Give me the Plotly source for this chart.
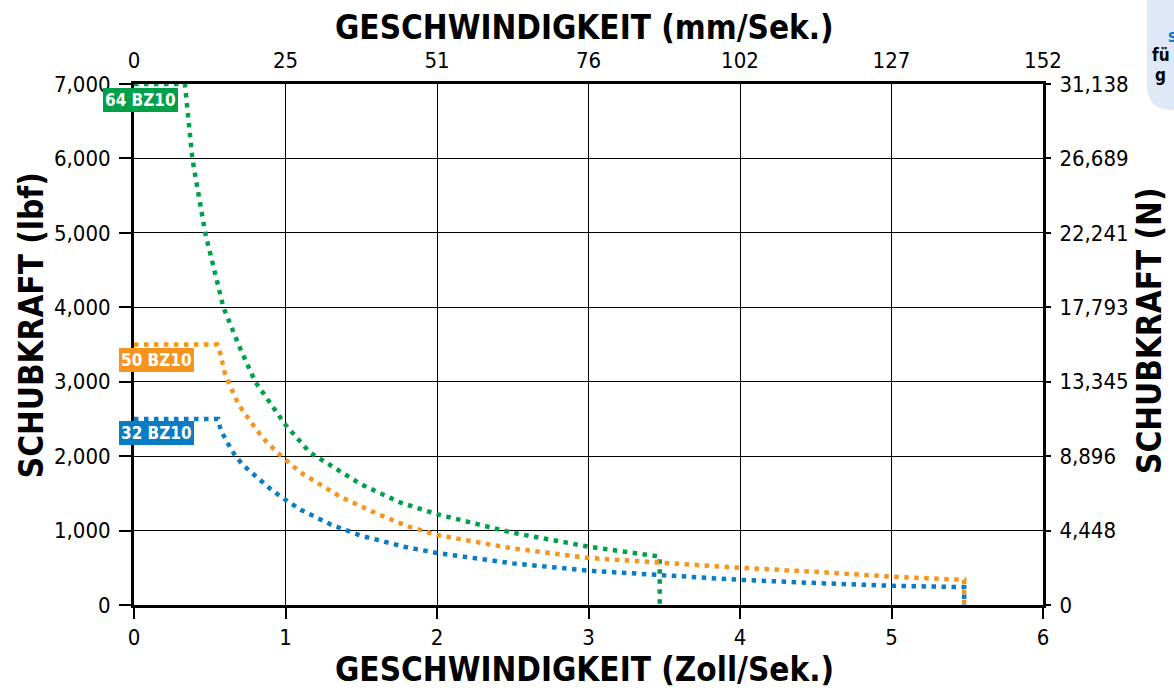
import plotly.graph_objects as go

# ---- data ----
speed_64 = [0, 0.336, 0.385, 0.47, 0.59, 0.7, 0.8, 1.0, 1.16, 1.31, 1.5, 1.76, 2.0, 2.5, 3.0, 3.47, 3.47]
force_64 = [7000, 7000, 6000, 5000, 4000, 3450, 3000, 2420, 2050, 1860, 1620, 1375, 1220, 970, 784, 650, 0]

speed_50 = [0, 0.55, 0.568, 0.6, 0.625, 0.65, 0.68, 0.715, 0.755, 0.795, 0.835, 0.88, 0.93, 0.977,
            1.1, 1.36, 1.6, 1.8, 2.0, 2.5, 3.0, 3.47, 4.0, 4.5, 5.0, 5.48, 5.48]
force_50 = [3500, 3500, 3390, 3115, 2990, 2860, 2740, 2620, 2505, 2390, 2285, 2180, 2080, 1990,
            1780, 1456, 1230, 1062, 941, 760, 632, 565, 500, 446, 381, 338, 0]

speed_32 = [0, 0.555, 0.572, 0.6, 0.636, 0.673, 0.72, 0.77, 0.83, 0.9, 0.975, 1.1, 1.3, 1.5, 1.78,
            2.0, 2.5, 3.0, 3.47, 4.0, 4.5, 5.0, 5.48, 5.48]
force_32 = [2500, 2500, 2350, 2230, 2110, 1990, 1880, 1790, 1680, 1560, 1447, 1280, 1080, 930, 784,
            698, 560, 461, 403, 338, 295, 258, 240, 0]

x_ticks = [0, 1, 2, 3, 4, 5, 6]
x_top_labels = ["0", "25", "51", "76", "102", "127", "152"]
y_ticks = [0, 1000, 2000, 3000, 4000, 5000, 6000, 7000]
y_left_labels = ["0", "1,000", "2,000", "3,000", "4,000", "5,000", "6,000", "7,000"]
y_right_labels = ["0", "4,448", "8,896", "13,345", "17,793", "22,241", "26,689", "31,138"]

series_names = ["64 BZ10", "50 BZ10", "32 BZ10"]
series_label_x = [0.04, 0.15, 0.15]
series_label_y = [6790, 3290, 2310]

GREEN = "#00a04b"
ORANGE = "#f7941d"
BLUE = "#0a7cc4"

FONT = "DejaVu Sans Condensed, Liberation Sans Narrow, sans-serif"

def tf(size, color="black"):
    return dict(family=FONT, size=size, color=color)

fig = go.Figure()
dash = "4.5px,5.5px"
for xs, ys, col, nm, xa, ya in [(speed_64, force_64, GREEN, series_names[0], "x", "y"),
                                (speed_50, force_50, ORANGE, series_names[1], "x", "y"),
                                (speed_32, force_32, BLUE, series_names[2], "x2", "y2")]:
    fig.add_trace(go.Scatter(x=xs, y=ys, mode="lines", name=nm, xaxis=xa, yaxis=ya,
                             line=dict(color=col, width=4.5, dash=dash),
                             showlegend=False, hoverinfo="skip"))

fig.update_layout(
    width=1174, height=691,
    margin=dict(l=134, r=131, t=84, b=86),
    paper_bgcolor="white", plot_bgcolor="white",
    xaxis=dict(range=[0, 6], tickvals=x_ticks, ticktext=[str(v) for v in x_ticks],
               showgrid=True, gridcolor="black", gridwidth=1.2, zeroline=False,
               showline=True, linecolor="black", linewidth=3,
               ticks="outside", ticklen=11, tickwidth=1.5, tickcolor="black",
               tickfont=tf(22)),
    xaxis2=dict(range=[0, 6], tickvals=x_ticks, ticktext=x_top_labels, overlaying="x",
                side="top", anchor="y2", showgrid=False, zeroline=False, showline=True,
                linecolor="black", linewidth=3, ticks="", ticklabelstandoff=4,
                tickfont=tf(22)),
    yaxis=dict(range=[0, 7000], tickvals=y_ticks, ticktext=y_left_labels,
               showgrid=True, gridcolor="black", gridwidth=1.2, zeroline=False,
               showline=True, linecolor="black", linewidth=3,
               ticks="outside", ticklen=12, tickwidth=1.5, tickcolor="black",
               ticklabelstandoff=4, tickfont=tf(22)),
    yaxis2=dict(range=[0, 7000], tickvals=y_ticks, ticktext=y_right_labels, overlaying="y",
                side="right", anchor="x2", showgrid=False, zeroline=False, showline=True,
                linecolor="black", linewidth=3, ticks="outside", ticklen=5, tickwidth=1.5,
                tickcolor="black", ticklabelstandoff=4, tickfont=tf(22)),
)

# curve labels
for nm, lx, ly, col in zip(series_names, series_label_x, series_label_y, [GREEN, ORANGE, BLUE]):
    fig.add_annotation(x=lx, y=ly, xref="x", yref="y", text="<b>" + nm + "</b>", showarrow=False,
                       xanchor="center", yanchor="middle",
                       font=tf(17, "white"), bgcolor=col,
                       bordercolor=col, borderwidth=1, borderpad=1)

# axis titles
title_font = tf(33)
fig.add_annotation(xref="paper", yref="paper", x=0.496, y=1, yshift=57, showarrow=False,
                   xanchor="center", yanchor="middle",
                   text="<b>GESCHWINDIGKEIT (mm/Sek.)</b>", font=title_font)
fig.add_annotation(xref="paper", yref="paper", x=0.496, y=0, yshift=-64, showarrow=False,
                   xanchor="center", yanchor="middle",
                   text="<b>GESCHWINDIGKEIT (Zoll/Sek.)</b>", font=title_font)
fig.add_annotation(xref="paper", yref="paper", x=0, xshift=-103, y=0.537, showarrow=False,
                   xanchor="center", yanchor="middle",
                   textangle=-90, text="<b>SCHUBKRAFT (lbf)</b>", font=title_font)
fig.add_annotation(xref="paper", yref="paper", x=1, xshift=107, y=0.526, showarrow=False,
                   xanchor="center", yanchor="middle",
                   textangle=-90, text="<b>SCHUBKRAFT (N)</b>", font=title_font)

# cropped info badge at top right
fig.add_shape(type="path", xref="paper", yref="paper",
              path="M 1.1144 1.19 L 1.1144 0.998 Q 1.1144 0.950 1.1419 0.950 L 1.16 0.950 L 1.16 1.19 Z",
              fillcolor="#dfe8f6", line=dict(width=0), layer="below")
fig.add_annotation(xref="paper", yref="paper", x=(1166 - 134) / 909, y=(605 - 36) / 521,
                   xanchor="left", yanchor="middle", showarrow=False, text="<b>s</b>",
                   font=tf(17, BLUE))
fig.add_annotation(xref="paper", yref="paper", x=(1150 - 134) / 909, y=(605 - 55) / 521,
                   xanchor="left", yanchor="middle", showarrow=False, text="<b>fü</b>",
                   font=tf(17))
fig.add_annotation(xref="paper", yref="paper", x=(1153 - 134) / 909, y=(605 - 75) / 521,
                   xanchor="left", yanchor="middle", showarrow=False, text="<b>g</b>",
                   font=tf(17))

fig.write_html("out.html", config={"displayModeBar": False},
               post_script="document.body.style.margin='0px';document.body.style.overflow='hidden';")
